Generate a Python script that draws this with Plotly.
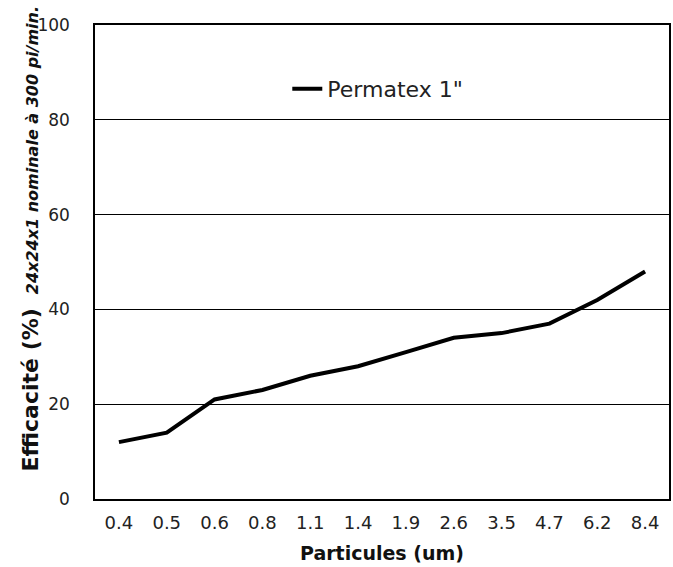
import plotly.graph_objects as go

categories = ["0.4", "0.5", "0.6", "0.8", "1.1", "1.4", "1.9", "2.6", "3.5", "4.7", "6.2", "8.4"]
efficiency = [12, 14, 21, 23, 26, 28, 31, 34, 35, 37, 42, 48]
series_name = 'Permatex 1"'
y_ticks = [0, 20, 40, 60, 80, 100]

FONT = "DejaVu Sans"

fig = go.Figure()
fig.add_trace(go.Scatter(
    x=categories, y=efficiency, mode="lines", name=series_name,
    line=dict(color="black", width=4),
))

fig.update_layout(
    width=673, height=567, autosize=False,
    margin=dict(l=95, r=4, t=25, b=68, autoexpand=False),
    paper_bgcolor="white", plot_bgcolor="white",
    font=dict(family=FONT, color="#222", size=18),
    showlegend=True,
    legend=dict(x=0.335, y=0.865, xanchor="left", yanchor="middle",
                font=dict(size=22, family=FONT, color="#222"),
                bgcolor="rgba(0,0,0,0)"),
    xaxis=dict(
        type="category", range=[-0.5, len(categories) - 0.5], automargin=False,
        domain=[0, 1],
        showgrid=False, showline=True, linecolor="black",
        linewidth=1.5, mirror=True, ticks="", tickfont=dict(size=18),
        ticklabelstandoff=7,
        title=dict(text="<b>Particules (um)</b>", font=dict(size=19, color="#111"), standoff=14),
    ),
    yaxis=dict(
        range=[0, 100], tickvals=y_ticks, automargin=False, showgrid=True, gridcolor="black",
        gridwidth=1, showline=True, linecolor="black", linewidth=1.5, mirror=True,
        zeroline=False, ticks="", tickfont=dict(size=17), ticklabelstandoff=20,
    ),
    annotations=[dict(
        text="<b>Efficacité (%)</b>  <b><i><span style='font-size:16px'>24x24x1 nominale à 300 pi/min.</span></i></b>",
        textangle=-90, xref="paper", yref="paper", x=-0.112, y=0.549,
        xanchor="center", yanchor="middle", showarrow=False,
        font=dict(size=22, family=FONT, color="#111"),
    )],
)

fig.write_html("out.html", config={"displayModeBar": False},
               post_script="document.body.style.margin='0';")
